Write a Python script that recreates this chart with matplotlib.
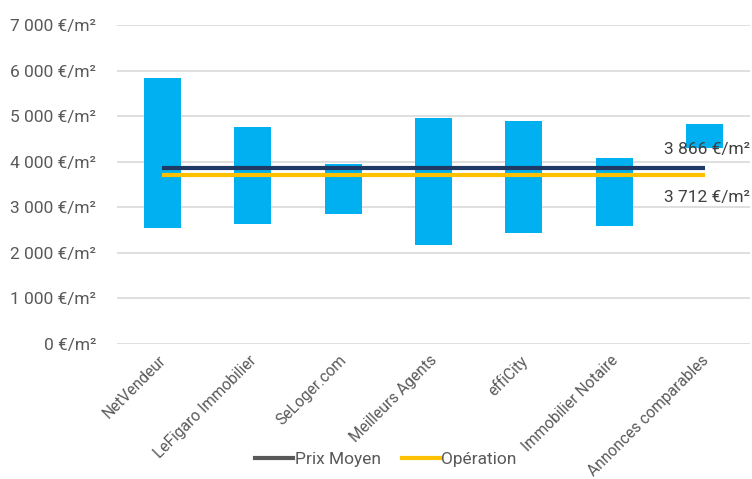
import matplotlib
matplotlib.use("Agg")
import matplotlib.pyplot as plt
import matplotlib.transforms as mtransforms
from matplotlib.lines import Line2D

plt.rcParams['font.family'] = ['Roboto', 'DejaVu Sans']

categories = ["NetVendeur", "LeFigaro Immobilier", "SeLoger.com", "Meilleurs Agents",
              "effiCity", "Immobilier Notaire", "Annonces comparables"]
range_low = [2540, 2640, 2860, 2170, 2430, 2595, 4290]
range_high = [5840, 4765, 3940, 4970, 4885, 4080, 4825]
prix_moyen = [3866] * 7
operation = [3712] * 7
y_ticks = [0, 1000, 2000, 3000, 4000, 5000, 6000, 7000]
y_tick_labels = ["0 €/m²", "1 000 €/m²", "2 000 €/m²", "3 000 €/m²",
                 "4 000 €/m²", "5 000 €/m²", "6 000 €/m²", "7 000 €/m²"]
label_prix = "3 866 €/m²"
label_op = "3 712 €/m²"

FS = 12.5
fig = plt.figure(figsize=(7.52, 4.79), dpi=100)
ax = fig.add_axes([117/752, 1-344/479, (750-117)/752, (344-25)/479])

x = list(range(len(categories)))
heights = [h - l for h, l in zip(range_high, range_low)]
ax.bar(x, heights, bottom=range_low, width=0.41, color="#00B0F0", zorder=2)
ax.plot(x, prix_moyen, color="#1F3864", lw=3, zorder=3, solid_capstyle='butt')
ax.plot(x, operation, color="#FFC000", lw=3, zorder=3, solid_capstyle='butt')

ax.set_xlim(-0.5, 6.5)
ax.set_ylim(0, 7000)
ax.set_yticks(y_ticks)
ax.set_yticklabels(y_tick_labels)
ax.grid(axis='y', color="#D9D9D9", lw=1.2, zorder=0)
ax.set_axisbelow(True)
for s in ax.spines.values():
    s.set_visible(False)
ax.tick_params(axis='both', length=0, colors="#595959")
ax.tick_params(axis='y', pad=15, labelsize=FS)
ax.set_xticks(x)
ax.set_xticklabels(categories, rotation=45, ha='right', va='top', rotation_mode='anchor',
                   fontsize=11.2, color="#595959")
ax.tick_params(axis='x', pad=9)
shift = mtransforms.ScaledTranslation(-4/100, 4/100, fig.dpi_scale_trans)
for lab in ax.get_xticklabels():
    lab.set_transform(lab.get_transform() + shift)

ax.annotate(label_prix, (x[-1], prix_moyen[-1]), xytext=(45, 18), textcoords='offset pixels',
            ha='right', va='center', fontsize=FS, color="#404040", zorder=4)
ax.annotate(label_op, (x[-1], operation[-1]), xytext=(45, -23), textcoords='offset pixels',
            ha='right', va='center', fontsize=FS, color="#404040", zorder=4)

handles = [Line2D([], [], color="#595959", lw=3), Line2D([], [], color="#FFC000", lw=3)]
fig.legend(handles, ["Prix Moyen", "Opération"], loc='center', bbox_to_anchor=(0.513, 0.04),
           ncol=2, frameon=False, fontsize=FS, handlelength=2.2, handletextpad=0.1,
           columnspacing=1.2, labelcolor="#595959")

fig.savefig("out.png", dpi=100)
